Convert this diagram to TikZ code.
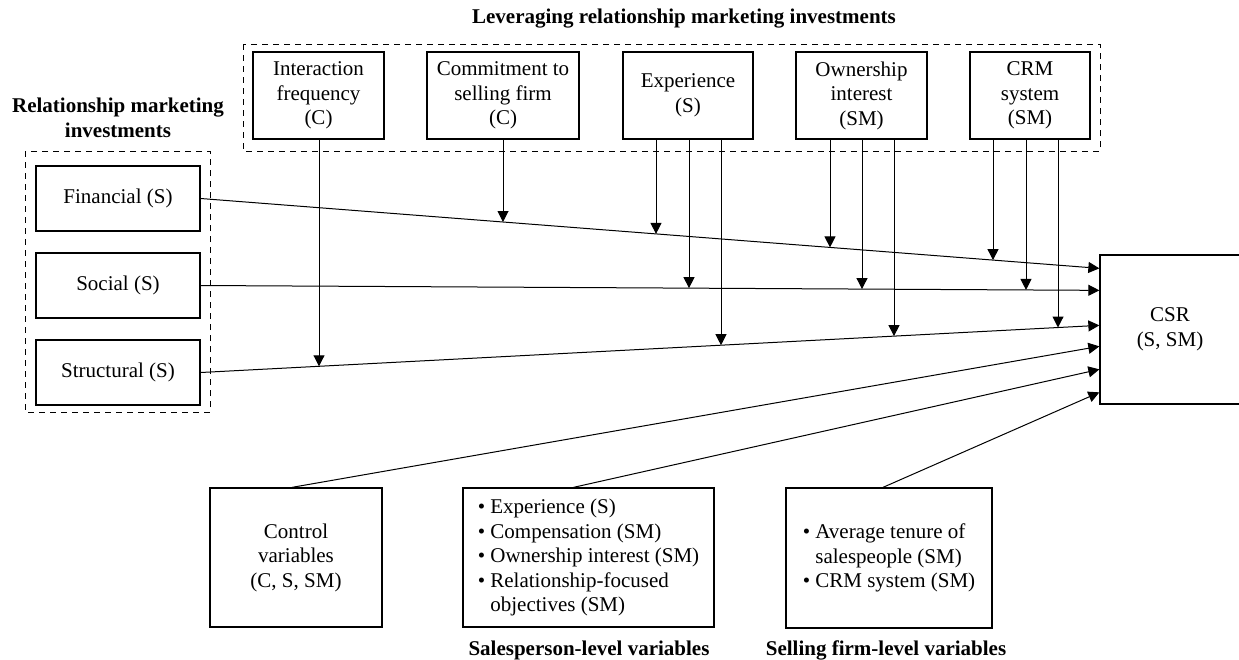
\documentclass[tikz,border=0pt]{standalone}
\usepackage{fontspec}
\setmainfont{Liberation Serif}
\usetikzlibrary{arrows.meta,calc,intersections}
\newcommand{\dfont}{\fontsize{21}{24.5}\selectfont}
\tikzset{
  box/.style={draw, line width=1.3pt, rectangle, align=center, inner sep=2pt},
  dashbox/.style={draw, line width=0.9pt, dash pattern=on 6pt off 5pt},
  conn/.style={line width=1pt, -{Triangle[length=11pt,width=11pt]}},
  ttl/.style={font=\dfont\bfseries, align=center, inner sep=0pt}
}
\begin{document}
\begin{tikzpicture}[x=1pt,y=-1pt,font=\dfont]
\useasboundingbox (0,0) rectangle (1239,659);
% dashed groups
\draw[dashbox] (243,44) rectangle (1100,151);
\draw[dashbox] (25,151) rectangle (210,412);
% titles
\node[ttl] (t0) at (684,19) {Leveraging relationship marketing investments};
\node[ttl] (t1) at (118,118) {Relationship marketing\\investments};
\node[ttl] (t2) at (589,650) {Salesperson-level variables};
\node[ttl] (t3) at (886,650) {Selling firm-level variables};
% top boxes
\node[box, minimum width=131pt, minimum height=87pt] (ifq) at (318.5,95.5) {Interaction\\frequency\\(C)};
\node[box, minimum width=152pt, minimum height=87pt] (com) at (503,95.5) {Commitment to\\selling firm\\(C)};
\node[box, minimum width=130pt, minimum height=87pt] (exp) at (688,95.5) {Experience\\(S)};
\node[box, minimum width=131pt, minimum height=87pt] (own) at (861.5,95.5) {Ownership\\interest\\(SM)};
\node[box, minimum width=120pt, minimum height=87pt] (crm) at (1030,95.5) {CRM\\system\\(SM)};
% left boxes
\node[box, minimum width=164pt, minimum height=65pt] (fin) at (118,198.5) {Financial (S)};
\node[box, minimum width=164pt, minimum height=65pt] (soc) at (118,285.5) {Social (S)};
\node[box, minimum width=164pt, minimum height=65pt] (str) at (118,372.5) {Structural (S)};
% CSR
\node[box, minimum width=140pt, minimum height=149pt] (csr) at (1170,329.5) {CSR\\(S, SM)};
% bottom boxes
\node[box, minimum width=172pt, minimum height=139pt] (ctl) at (296,557.5) {Control\\variables\\(C, S, SM)};
\node[box, minimum width=251pt, minimum height=139pt, align=left, inner sep=1pt] (sal) at (588.5,557.5)
  {\textbullet\ Experience (S)\\\textbullet\ Compensation (SM)\\\textbullet\ Ownership interest (SM)\\\textbullet\ Relationship-focused\\\hphantom{\textbullet\ }objectives (SM)};
\node[box, minimum width=206pt, minimum height=140pt, align=left] (sel) at (889,558)
  {\textbullet\ Average tenure of\\\hphantom{\textbullet\ }salespeople (SM)\\\textbullet\ CRM system (SM)};
% targets on CSR
\coordinate (c1) at ($(csr.north west)+(0,14)$);
\coordinate (c2) at ($(csr.north west)+(0,36)$);
\coordinate (c3) at ($(csr.north west)+(0,71)$);
\coordinate (c4) at ($(csr.north west)+(0,92)$);
\coordinate (c5) at ($(csr.north west)+(0,115)$);
\coordinate (c6) at ($(csr.north west)+(0,138)$);
% main arrows
\draw[conn, name path=lfin] (fin.east) -- (c1);
\draw[conn, name path=lsoc] (soc.east) -- (c2);
\draw[conn, name path=lstr] (str.east) -- (c3);
\draw[conn] ($(ctl.north)+(-4,0)$) -- (c4);
\draw[conn] ($(sal.north)+(-15,0)$) -- (c5);
\draw[conn] ($(sel.north)+(-6,0)$) -- (c6);
% moderator arrows
\foreach \nm/\xp/\tg in {ifq/319/str, com/503/fin,
  exp/656/fin, exp/689/soc, exp/721/str,
  own/830/fin, own/862/soc, own/894/str,
  crm/993/fin, crm/1026/soc, crm/1058/str}{
  \coordinate (vs) at (\nm.south -| \xp,0);
  \coordinate (ve) at (\xp,600);
  \path[name path=vv] (vs) -- (ve);
  \path[name intersections={of=vv and l\tg, by=vh}];
  \draw[conn] (vs) -- (vh);
}
\end{tikzpicture}
\end{document}
